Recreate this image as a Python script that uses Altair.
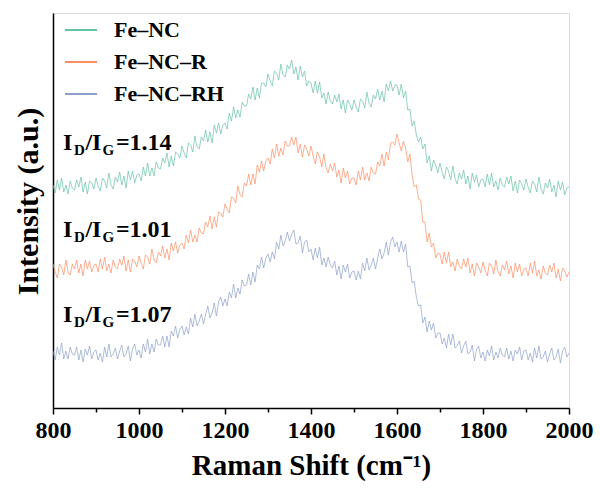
import altair as alt
import pandas as pd

shift = list(range(800, 2001, 5))

fe_nc = [
    223, 215, 228, 218, 230, 216, 223, 214, 227, 220,
    218, 228, 221, 231, 216, 226, 214, 227, 225, 219,
    230, 222, 217, 230, 227, 220, 235, 223, 219, 231,
    226, 236, 223, 232, 220, 237, 228, 237, 225, 233,
    234, 227, 241, 232, 245, 232, 240, 232, 246, 240,
    239, 250, 245, 255, 241, 252, 242, 256, 254, 250,
    262, 255, 250, 265, 263, 256, 272, 261, 259, 271,
    267, 278, 266, 276, 265, 283, 275, 285, 274, 283,
    285, 279, 295, 287, 301, 290, 298, 291, 306, 302,
    302, 314, 309, 321, 308, 320, 310, 325, 325, 321,
    334, 327, 322, 337, 335, 328, 344, 333, 331, 343,
    339, 348, 334, 341, 328, 342, 331, 337, 322, 327,
    325, 315, 327, 315, 326, 310, 315, 304, 316, 307,
    304, 313, 306, 314, 299, 308, 295, 308, 304, 298,
    308, 301, 296, 309, 307, 300, 316, 305, 301, 313,
    309, 319, 308, 317, 306, 324, 317, 327, 317, 323,
    323, 313, 324, 310, 317, 298, 299, 282, 287, 273,
    266, 271, 259, 264, 245, 252, 237, 248, 243, 235,
    245, 236, 229, 241, 237, 228, 242, 229, 224, 235,
    229, 238, 224, 232, 219, 235, 226, 233, 221, 228,
    229, 221, 234, 223, 235, 221, 227, 218, 230, 223,
    221, 231, 224, 232, 217, 227, 215, 228, 224, 218,
    229, 221, 215, 227, 224, 216, 231, 219, 214, 225,
    220, 229, 216, 223, 211, 227, 218, 226, 213, 220,
    221,
]

fe_nc_r = [
    144, 136, 130, 144, 141, 133, 148, 136, 133, 144,
    139, 148, 135, 144, 132, 148, 139, 147, 136, 143,
    144, 136, 149, 139, 151, 137, 144, 135, 148, 141,
    139, 149, 143, 152, 137, 148, 136, 149, 147, 141,
    152, 145, 139, 153, 151, 144, 159, 148, 145, 156,
    152, 162, 150, 159, 148, 165, 157, 166, 155, 163,
    165, 159, 173, 165, 178, 166, 173, 166, 180, 175,
    174, 186, 181, 192, 179, 191, 181, 196, 195, 191,
    204, 199, 195, 211, 210, 205, 222, 213, 211, 225,
    222, 234, 223, 234, 224, 243, 236, 247, 237, 247,
    250, 244, 259, 250, 264, 252, 260, 253, 267, 262,
    262, 271, 263, 271, 255, 264, 251, 263, 259, 252,
    262, 252, 244, 256, 251, 241, 254, 240, 235, 244,
    237, 245, 231, 238, 225, 240, 230, 237, 224, 230,
    230, 223, 237, 228, 241, 228, 235, 227, 241, 235,
    234, 246, 242, 254, 242, 256, 248, 265, 266, 263,
    274, 265, 257, 267, 260, 246, 254, 234, 221, 223,
    209, 208, 186, 186, 166, 175, 161, 165, 150, 155,
    154, 144, 156, 145, 156, 141, 146, 137, 149, 142,
    139, 149, 141, 150, 135, 144, 132, 145, 141, 135,
    146, 138, 132, 145, 142, 134, 148, 136, 132, 143,
    138, 147, 134, 142, 130, 145, 136, 144, 132, 139,
    140, 132, 145, 135, 147, 132, 138, 129, 142, 135,
    133, 143, 136, 145, 130, 139, 127, 140, 137, 131,
    136,
]

fe_nc_rh = [
    57, 48, 61, 53, 65, 49, 57, 49, 61, 54,
    53, 61, 48, 58, 46, 59, 53, 62, 49, 56,
    58, 48, 55, 46, 61, 51, 64, 51, 54, 60,
    49, 57, 63, 51, 54, 62, 47, 59, 64, 53,
    58, 50, 64, 56, 69, 54, 64, 56, 69, 63,
    63, 72, 61, 72, 61, 77, 72, 82, 70, 79,
    82, 73, 81, 74, 90, 81, 94, 82, 87, 94,
    84, 94, 102, 90, 95, 105, 92, 106, 111, 102,
    109, 102, 116, 110, 124, 110, 120, 114, 128, 122,
    123, 134, 123, 136, 126, 143, 139, 151, 140, 150,
    154, 146, 156, 149, 166, 159, 173, 162, 167, 176,
    167, 174, 178, 164, 165, 172, 155, 166, 168, 156,
    159, 148, 160, 150, 161, 143, 150, 141, 151, 143,
    140, 147, 133, 142, 129, 143, 136, 144, 130, 136,
    137, 128, 137, 129, 145, 137, 150, 138, 143, 150,
    139, 150, 159, 149, 155, 166, 153, 166, 171, 161,
    166, 156, 167, 156, 164, 141, 142, 125, 127, 111,
    102, 103, 85, 91, 76, 87, 78, 85, 70, 75,
    75, 64, 70, 60, 74, 63, 74, 60, 62, 67,
    55, 62, 67, 54, 56, 63, 47, 59, 62, 50,
    56, 47, 58, 52, 62, 48, 56, 50, 60, 53,
    51, 60, 49, 57, 47, 58, 54, 61, 48, 57,
    58, 48, 55, 46, 60, 50, 62, 49, 51, 57,
    46, 54, 60, 48, 51, 59, 45, 57, 61, 51,
    55,
]

series_names = ["Fe\u2013NC", "Fe\u2013NC\u2013R", "Fe\u2013NC\u2013RH"]
series_colors = ["#66c2a5", "#fc8d62", "#8da0cb"]

ratio_labels = ["=1.14", "=1.01", "=1.07"]
ratio_x = [823, 823, 823]
ratio_y = [258, 171, 86]

x_ticks = list(range(800, 2001, 100))

FONT = "Liberation Serif"

rows = []
for name, vals in zip(series_names, [fe_nc, fe_nc_r, fe_nc_rh]):
    for s, v in zip(shift, vals):
        rows.append({"shift": s, "intensity": v, "sample": name})
df = pd.DataFrame(rows)

ann = pd.DataFrame({"x": ratio_x, "y": ratio_y, "ratio": ratio_labels})

xscale = alt.Scale(domain=[800, 2000], nice=False, zero=False)
yscale = alt.Scale(domain=[0, 395], nice=False, zero=False)

lines = alt.Chart(df).mark_line(strokeWidth=0.7, clip=True).encode(
    x=alt.X(
        "shift:Q",
        scale=xscale,
        axis=alt.Axis(
            title="Raman Shift (cm\u207b\u00b9)",
            values=x_ticks,
            format="d",
            labelExpr="datum.value % 200 === 0 ? datum.label : ''",
            tickSize={"condition": {"test": "datum.value % 200 === 0", "value": 6}, "value": 4},
            tickColor="black",
            tickWidth=1.5,
            domainColor="black",
            domainWidth=1.5,
            labelFont=FONT,
            labelFontSize=24,
            labelFontWeight="bold",
            labelColor="black",
            labelPadding=4,
            labelOverlap=False,
            labelFlush=False,
            titleFont=FONT,
            titleFontSize=29,
            titleFontWeight="bold",
            titleColor="black",
            titlePadding=9,
            grid=False,
        ),
    ),
    y=alt.Y(
        "intensity:Q",
        scale=yscale,
        axis=alt.Axis(
            title="Intensity (a.u.)",
            labels=False,
            ticks=False,
            grid=False,
            domainColor="black",
            domainWidth=1.5,
            titleFont=FONT,
            titleFontSize=30,
            titleFontWeight="bold",
            titleColor="black",
            titleX=-10,
            titleY=188,
        ),
    ),
    color=alt.Color(
        "sample:N",
        scale=alt.Scale(domain=series_names, range=series_colors),
        sort=series_names,
        legend=alt.Legend(
            title=None,
            orient="none",
            legendX=11,
            legendY=0,
            padding=0,
            symbolType="stroke",
            symbolSize=1024,
            symbolStrokeWidth=2,
            rowPadding=4,
            labelOffset=16,
            labelFont=FONT,
            labelFontSize=22,
            labelFontWeight="bold",
            labelColor="black",
        ),
    ),
    order=alt.Order("shift:Q"),
)


def piece(text_field, dx, dy, size):
    return alt.Chart(ann).mark_text(
        align="left", baseline="alphabetic", font=FONT, fontWeight="bold",
        fontSize=size, color="black", dx=dx, dy=dy,
    ).encode(
        x=alt.X("x:Q", scale=xscale),
        y=alt.Y("y:Q", scale=yscale),
        text=text_field,
    )


t1 = piece(alt.value("I"), 0, 0, 24)
t2 = piece(alt.value("D"), 11, 5, 15)
t3 = piece(alt.value("/I"), 22.5, 0, 24)
t4 = piece(alt.value("G"), 39.5, 5, 15)
t5 = piece(alt.Text("ratio:N"), 53, 0, 24)

chart = alt.layer(lines, t1, t2, t3, t4, t5).properties(
    width=516,
    height=395,
    padding={"left": 53, "top": 13, "right": 31, "bottom": 82},
    autosize=alt.AutoSizeParams(type="none"),
).configure_view(
    stroke="black", strokeWidth=1.5
).configure(background="white")

chart.save("out.html", embed_options={"renderer": "svg", "actions": False})
